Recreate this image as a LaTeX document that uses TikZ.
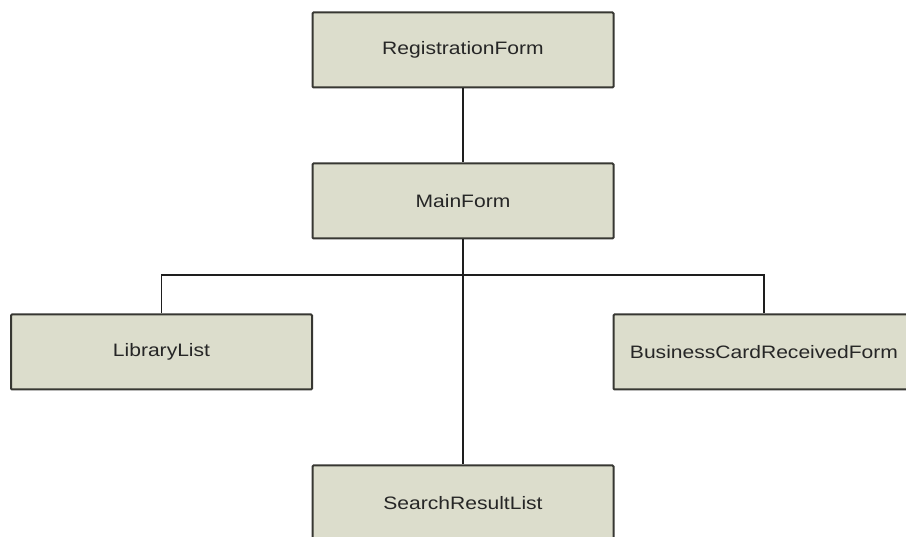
\documentclass[tikz,border=0pt]{standalone}
\usepackage{fontspec}
\setmainfont{Liberation Sans}[FakeStretch=1.17]
\definecolor{boxfill}{RGB}{220,221,204}
\definecolor{boxline}{RGB}{55,55,50}
\definecolor{wire}{RGB}{30,30,30}
\begin{document}
\begin{tikzpicture}[x=1pt,y=-1pt,
  formbox/.style={draw=boxline,line width=2pt,fill=boxfill,rounded corners=1pt,
    minimum width=301pt,minimum height=75pt,inner sep=0pt,
    font=\fontsize{18}{20}\selectfont,text=black!85},
  wire/.style={draw=wire,line width=1.8pt}]
\useasboundingbox (0,0) rectangle (906,537);
\begin{scope}
\clip (0,0) rectangle (906,537);
\node[formbox] (reg)  at (463,50)  {RegistrationForm};
\node[formbox] (main) at (463,201) {MainForm};
\node[formbox] (lib)  at (161.5,352) {LibraryList};
\node[formbox] (biz)  at (764,352) {BusinessCardReceivedForm};
\node[formbox] (srch) at (463,503) {SearchResultList};
\coordinate (bus) at (463,275);
\draw[wire] (reg.south) -- (main.north);
\draw[wire] (main.south) -- (srch.north);
\draw[wire] (lib.north) |- (bus) -| (biz.north);
\end{scope}
\end{tikzpicture}
\end{document}
